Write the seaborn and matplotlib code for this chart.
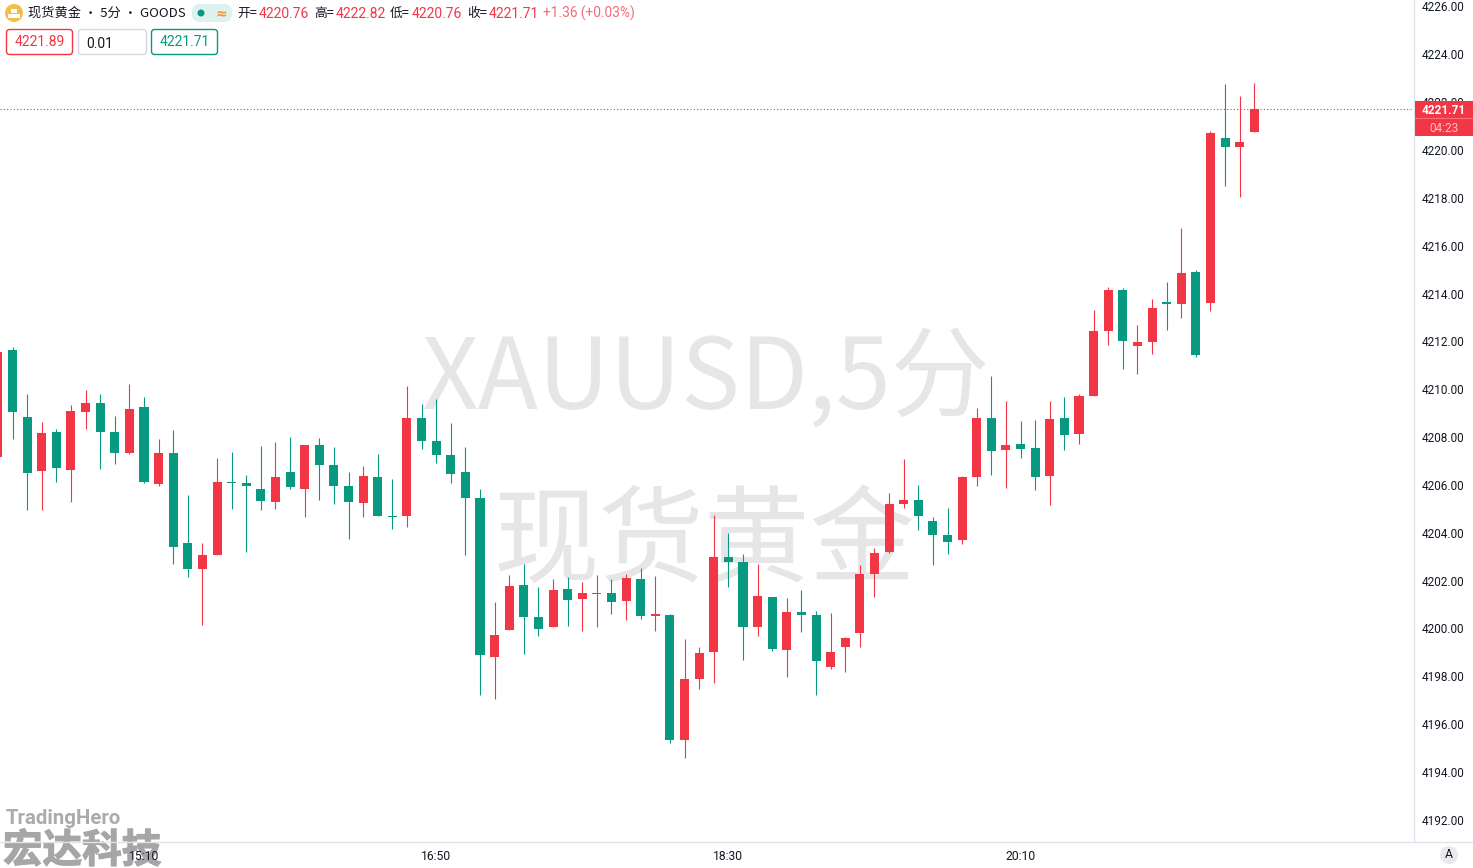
import numpy as np
import pandas as pd
import matplotlib
matplotlib.use("Agg")
import matplotlib.pyplot as plt
import matplotlib.patheffects as pe
from matplotlib.patches import FancyBboxPatch, Circle, Rectangle
from matplotlib.lines import Line2D
import seaborn as sns

W, H = 1473, 868
UP, DOWN = "#F23645", "#089981"
TXT = "#131722"
AXC = "#E0E3EB"

opens = [4207.17,4211.64,4208.84,4206.58,4208.21,4206.63,4209.05,4209.42,4208.21,4207.33,4209.26,4206.04,4207.33,4203.57,4202.48,4203.07,4206.12,4206.08,4205.83,4205.29,4206.54,4205.83,4207.67,4206.83,4205.95,4205.24,
          4206.33,4204.70,4204.70,4208.80,4207.84,4207.25,4206.54,4205.45,4198.80,4199.93,4201.82,4200.47,4200.06,4201.65,4201.23,4201.44,4201.48,4201.15,4202.07,4200.52,4200.56,4195.33,4197.89,4199.01,4202.98,
          4202.78,4200.06,4201.31,4199.10,4200.69,4200.56,4198.39,4199.22,4199.81,4202.27,4203.19,4205.20,4205.37,4204.49,4203.90,4203.69,4206.33,4208.79,4207.46,4207.71,4207.54,4206.37,4208.79,4208.12,4209.71,4212.43,
          4214.14,4211.80,4211.97,4213.64,4213.56,4214.90,4213.60,4220.50,4220.12,4220.76]
highs = [4211.75,4211.77,4209.80,4208.63,4208.34,4209.34,4209.97,4209.80,4208.88,4210.22,4209.67,4207.92,4208.29,4205.58,4203.57,4207.12,4207.37,4206.41,4207.62,4207.79,4208.00,4207.67,4207.96,4207.59,4206.54,4206.79,
          4207.29,4206.25,4210.13,4209.38,4209.59,4208.59,4207.58,4205.83,4201.10,4202.23,4202.69,4201.73,4202.07,4202.15,4201.94,4202.23,4202.07,4202.27,4202.53,4202.19,4200.60,4199.56,4199.22,4204.74,4203.99,
          4203.11,4202.69,4201.31,4201.27,4201.60,4200.73,4200.64,4199.64,4202.65,4203.36,4205.66,4207.08,4205.99,4204.65,4205.03,4206.37,4209.21,4210.55,4209.51,4208.67,4208.71,4209.51,4209.67,4209.80,4213.31,4214.27,
          4214.23,4212.68,4213.77,4214.48,4216.74,4214.98,4220.79,4222.76,4222.25,4222.82]
lows = [4207.17,4207.92,4204.95,4204.95,4206.12,4205.29,4208.34,4206.66,4206.87,4207.29,4206.08,4205.95,4202.69,4202.15,4200.14,4203.07,4204.99,4203.19,4204.95,4204.99,4205.83,4204.66,4205.37,4205.20,4203.74,4204.66,
         4204.70,4204.16,4204.24,4207.50,4206.91,4206.08,4203.07,4197.22,4197.05,4199.93,4198.93,4199.68,4200.06,4200.10,4199.89,4200.06,4200.60,4200.35,4200.39,4199.89,4195.21,4194.58,4197.47,4197.72,4201.73,
         4198.68,4199.68,4199.05,4197.97,4199.85,4197.22,4198.30,4198.18,4199.22,4201.31,4203.15,4205.03,4204.11,4202.65,4203.11,4203.53,4205.95,4206.41,4205.87,4207.12,4205.79,4205.16,4207.46,4207.71,4209.71,4211.84,
         4210.84,4210.63,4211.47,4212.47,4212.97,4211.34,4213.26,4218.49,4218.03,4220.76]
closes = [4211.56,4209.05,4206.50,4208.17,4206.71,4209.09,4209.42,4208.21,4207.33,4209.17,4206.12,4207.33,4203.40,4202.48,4203.07,4206.12,4206.08,4205.95,4205.33,4206.33,4205.91,4207.67,4206.83,4205.95,4205.29,4206.37,
          4204.70,4204.66,4208.80,4207.84,4207.25,4206.46,4205.45,4198.89,4199.72,4201.77,4200.47,4199.98,4201.61,4201.19,4201.48,4201.48,4201.10,4202.11,4200.52,4200.60,4195.33,4197.89,4198.97,4202.98,4202.77,
          4200.06,4201.35,4199.14,4200.69,4200.56,4198.64,4199.01,4199.60,4202.27,4203.15,4205.20,4205.37,4204.70,4203.90,4203.61,4206.33,4208.79,4207.41,4207.67,4207.50,4206.33,4208.75,4208.08,4209.71,4212.43,4214.14,
          4212.01,4211.97,4213.39,4213.56,4214.86,4211.43,4220.71,4220.12,4220.33,4221.71]
candle_numbers = list(range(-1, 86))
price_ticks = [4192, 4194, 4196, 4198, 4200, 4202, 4204, 4206, 4208, 4210, 4212, 4214, 4216, 4218, 4220, 4222, 4224, 4226]
time_tick_candles = [9, 29, 49, 69]
time_tick_labels = ["15:10", "16:50", "18:30", "20:10"]
last_close = 4221.71

df = pd.DataFrame({"candle": candle_numbers, "open": opens, "high": highs, "low": lows, "close": closes})
df["lower"] = df[["open", "close"]].min(axis=1)
df["body"] = (df["close"] - df["open"]).abs()
df["dir"] = np.where(df["close"] >= df["open"], "up", "down")

sns.set_theme(style="white")
FONT = ["Roboto", "Noto Sans CJK SC", "DejaVu Sans"]
CJK = ["Noto Sans CJK SC", "DejaVu Sans"]
plt.rcParams["font.family"] = FONT

fig = plt.figure(figsize=(W / 100, H / 100), dpi=100, facecolor="white")
ax = fig.add_axes([0, 26 / H, 1414 / W, 842 / H])
ax.set_facecolor("none")
ax.set_zorder(1)

# wicks
wicks = df.melt(id_vars=["candle", "dir"], value_vars=["high", "low"], value_name="price")
sns.lineplot(data=wicks, x="candle", y="price", units="candle", estimator=None, hue="dir",
             palette={"up": UP, "down": DOWN}, legend=False, linewidth=0.8,
             solid_capstyle="butt", ax=ax, zorder=3)
# bodies
for direction, colour in (("up", UP), ("down", DOWN)):
    sub = df[df["dir"] == direction]
    sns.barplot(data=sub, x="candle", y="body", bottom=sub["lower"].to_numpy(), native_scale=True,
                color=colour, saturation=1, width=0.62, errorbar=None, linewidth=0, ax=ax, zorder=4)

ax.set_xlim(-0.856, 95.93)
ax.set_ylim(4191.07, 4226.27)
ax.set_xticks(time_tick_candles)
ax.set_xticklabels(time_tick_labels)
ax.set_yticks(price_ticks)
ax.set_yticklabels([f"{v:.2f}" for v in price_ticks])
ax.yaxis.tick_right()
ax.tick_params(axis="y", length=0, pad=5.5, labelsize=8.5, labelcolor=TXT)
ax.tick_params(axis="x", length=0, pad=6, labelsize=8.7, labelcolor=TXT)
ax.set_xlabel("")
ax.set_ylabel("")
ax.grid(False)
for s in ("top", "left"):
    ax.spines[s].set_visible(False)
for s in ("right", "bottom"):
    ax.spines[s].set_color(AXC)
    ax.spines[s].set_linewidth(1)
ax.axhline(last_close, color=UP, lw=0.8, ls=(0, (1, 2)), zorder=2)

# pixel-space helpers
def fx(x): return x / W
def fy(y): return 1 - y / H
def text(x, y, s, color=TXT, size=9.4, ha="left", family=None, weight="normal", zorder=10):
    return fig.text(fx(x), fy(y), s, color=color, fontsize=size, ha=ha, va="center",
                    family=family or FONT, fontweight=weight, zorder=zorder)
def box(x0, y0, x1, y1, fc, ec, r=3, z=6):
    fig.add_artist(FancyBboxPatch((x0, H - y1), x1 - x0, y1 - y0, boxstyle=f"round,pad=0,rounding_size={r}",
                                  fc=fc, ec=ec, lw=1, transform=None, zorder=z))

# watermark
text(706, 381, "XAUUSD,5分", color="#E6E6E8", size=71.3, ha="center", family=CJK, zorder=0.5)
text(704, 544, "现货黄金", color="#E6E6E8", size=76, ha="center", family=CJK, zorder=0.5)

# header
fig.add_artist(Circle((14, H - 13), 9, fc="#F2BE4A", ec="none", transform=None, zorder=6))
for (x, y) in ((11, 9), (8, 14), (14, 14)):
    fig.add_artist(Rectangle((x, H - y - 4), 6, 4, fc="white", ec="none", transform=None, zorder=7))
text(28, 13.5, "现货黄金 • 5分 • GOODS", size=9.5, family=CJK)
box(192, 4, 232, 22, "#DDF1EE", "none", r=8)
fig.add_artist(Circle((201, H - 13), 3.5, fc=DOWN, ec="none", transform=None, zorder=7))
text(221, 13, "≈", color="#F7941D", size=10, ha="center", family=["DejaVu Sans"], weight="bold")
for x, lab in ((237, "开="), (314, "高="), (390, "低="), (467, "收=")):
    text(x, 13.5, lab, size=9.2, family=CJK)
for x, val in ((259, "4220.76"), (336, "4222.82"), (412, "4220.76"), (489, "4221.71")):
    text(x, 13.5, val, color=UP, size=10)
text(543, 13.5, "+1.36 (+0.03%)", color="#F56A76", size=9.9)
box(6.5, 29.5, 72.5, 54.5, "white", UP)
text(39.5, 42.5, "4221.89", color=UP, size=10, ha="center")
box(78.5, 29.5, 146.5, 54.5, "white", "#D6D8E0")
text(86, 43.5, "0.01", size=10)
box(151.5, 29.5, 217.5, 54.5, "white", DOWN)
text(184.5, 42.5, "4221.71", color=DOWN, size=10, ha="center")

# last price tag
fig.add_artist(Rectangle((1415, H - 136), 58, 35, fc=UP, ec="none", transform=None, zorder=6))
fig.add_artist(Line2D([1415, 1473], [H - 118, H - 118], color="#F6707C", lw=0.8, transform=None, zorder=7))
text(1443.5, 110, "4221.71", color="white", size=8.5, ha="center", weight="bold")
text(1443.5, 128, "04:23", color="#FBC4C9", size=8.5, ha="center")

# axis extension and auto button
fig.add_artist(Line2D([1414, W], [H - 842, H - 842], color=AXC, lw=1, transform=None, zorder=0.6))
fig.add_artist(Circle((1449, H - 855), 9, fc="#E9E9EC", ec="none", transform=None, zorder=6))
text(1449, 855, "A", size=8.7, ha="center")

# logo
text(6, 818, "TradingHero", color="#ABABAB", size=14.7, family=["Roboto", "DejaVu Sans"], weight="bold", zorder=0.8)
logo = text(3, 851, "宏达科技", color="#A6A6A6", size=28.5, family=CJK, weight="bold", zorder=0.8)
logo.set_path_effects([pe.withStroke(linewidth=0.9, foreground="#A6A6A6")])

fig.savefig("out.png", dpi=100, facecolor="white")
